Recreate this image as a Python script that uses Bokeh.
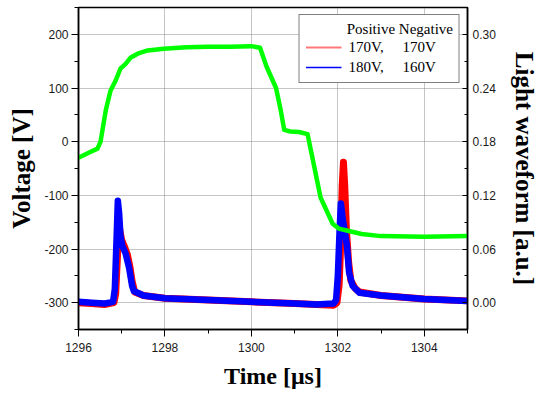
from bokeh.plotting import figure
from bokeh.models import (Range1d, LinearAxis, FixedTicker, PrintfTickFormatter,
                          Legend, LegendItem)
from bokeh.embed import file_html
from bokeh.resources import INLINE

# ---- Voltage waveform (left axis, V) ----
volt_t = [1296.0, 1296.2, 1296.44, 1296.51, 1296.63, 1296.74, 1296.86, 1296.97,
          1297.09, 1297.21, 1297.37, 1297.6, 1297.97, 1298.5, 1299.0, 1299.5,
          1300.0, 1300.2, 1300.35, 1300.57, 1300.68, 1300.76, 1300.9, 1301.1,
          1301.3, 1301.45, 1301.6, 1301.75, 1301.88, 1302.02, 1302.23, 1302.55,
          1303.0, 1304.0, 1305.0]
volt_v = [-30, -22, -13, 0, 58, 95, 114, 136,
          145, 157, 164, 170, 173, 176, 177, 177,
          178, 175, 140, 100, 58, 22, 19, 18,
          14, -45, -104, -130, -153, -162, -166, -172,
          -176, -177, -176]

# ---- Light waveform, Positive 170V / Negative 170V (right axis, a.u.) ----
light1_t = [1296.0, 1296.3, 1296.6, 1296.82, 1296.86, 1296.9, 1296.93, 1296.96,
            1297.0, 1297.06, 1297.13, 1297.19, 1297.24, 1297.3, 1297.5, 1298.0,
            1299.0, 1300.0, 1301.0, 1301.5, 1301.9, 1301.98, 1302.03, 1302.07,
            1302.1, 1302.13, 1302.16, 1302.2, 1302.25, 1302.3, 1302.4, 1302.5,
            1303.0, 1304.0, 1305.0]
light1_v = [0.000, -0.001, -0.002, 0.000, 0.010, 0.050, 0.089, 0.080,
            0.070, 0.063, 0.054, 0.040, 0.024, 0.012, 0.008, 0.005,
            0.003, 0.001, -0.001, -0.002, -0.003, 0.000, 0.020, 0.070,
            0.130, 0.157, 0.130, 0.080, 0.045, 0.025, 0.016, 0.012,
            0.008, 0.004, 0.002]

# ---- Light waveform, Positive 180V / Negative 160V ----
light2_t = [1296.0, 1296.3, 1296.6, 1296.8, 1296.84, 1296.88, 1296.91, 1296.94,
            1296.97, 1297.01, 1297.09, 1297.17, 1297.24, 1297.28, 1297.5, 1298.0,
            1299.0, 1300.0, 1301.0, 1301.5, 1301.9, 1301.96, 1302.0, 1302.04,
            1302.07, 1302.11, 1302.15, 1302.21, 1302.26, 1302.34, 1302.5, 1303.0,
            1304.0, 1305.0]
light2_v = [0.001, 0.000, -0.001, 0.001, 0.015, 0.070, 0.114, 0.100,
            0.075, 0.064, 0.055, 0.039, 0.019, 0.013, 0.008, 0.005,
            0.003, 0.001, -0.001, -0.002, -0.001, 0.003, 0.030, 0.080,
            0.111, 0.095, 0.083, 0.064, 0.034, 0.019, 0.011, 0.008,
            0.004, 0.002]

NB = "\u00a0"
legend_header = NB * 11 + "Positive" + NB + "Negative"
label1 = "170V," + NB * 5 + "170V"
label2 = "180V," + NB * 5 + "160V"

x_ticks = [1296, 1298, 1300, 1302, 1304]
x_minor = [1297, 1299, 1301, 1303, 1305]
v_ticks = [-300, -200, -100, 0, 100, 200]
v_minor = [-350, -250, -150, -50, 50, 150, 250]
l_ticks = [0.00, 0.06, 0.12, 0.18, 0.24, 0.30]
l_minor = [-0.03, 0.03, 0.09, 0.15, 0.21, 0.27, 0.33]

p = figure(width=543, height=395, output_backend="svg", toolbar_location=None,
           x_range=Range1d(1296, 1305), y_range=Range1d(-350, 250),
           min_border_left=78, min_border_right=76, min_border_top=7,
           min_border_bottom=66)
p.extra_y_ranges = {"light": Range1d(-0.03, 0.33)}
p.background_fill_color = "white"
p.border_fill_color = "white"
p.outline_line_color = "black"
p.outline_line_width = 1.5

# legend-sample renderers (thin), hidden below thick traces
leg1 = p.line(light1_t, light1_v, y_range_name="light", line_color="#ff4040",
              line_width=2, line_alpha=0.7)
r1 = p.line(light1_t, light1_v, y_range_name="light", line_color="#ff0000",
            line_width=7, line_join="round")
leg2 = p.line(light2_t, light2_v, y_range_name="light", line_color="#0000ff",
              line_width=1.5)
r2 = p.line(light2_t, light2_v, y_range_name="light", line_color="#0000ff",
            line_width=6.5, line_join="round")
g = p.line(volt_t, volt_v, line_color="#00ff00", line_width=4.5, line_join="round")

# axes
tick_font = "Liberation Sans"
lab_font = "Liberation Serif"

xa = p.xaxis[0]
xa.ticker = FixedTicker(ticks=x_ticks, minor_ticks=x_minor)
xa.axis_label = "Time [\u03bcs]"
ya = p.yaxis[0]
ya.ticker = FixedTicker(ticks=v_ticks, minor_ticks=v_minor)
ya.formatter = PrintfTickFormatter(format="%d")
ya.axis_label = "Voltage [V]"

ra = LinearAxis(y_range_name="light", axis_label="Light waveform [a.u.]",
                ticker=FixedTicker(ticks=l_ticks, minor_ticks=l_minor),
                formatter=PrintfTickFormatter(format="%.2f"))
p.add_layout(ra, "right")

for ax in (xa, ya, ra):
    ax.axis_line_color = "black"
    ax.axis_line_width = 1.5
    ax.major_tick_line_color = "black"
    ax.minor_tick_line_color = "black"
    ax.major_tick_line_width = 1
    ax.minor_tick_line_width = 1
    ax.major_label_text_font = tick_font
    ax.major_label_text_font_size = "12px"
    ax.major_label_text_color = "#1a1a1a"
    ax.axis_label_text_font = lab_font
    ax.axis_label_text_font_style = "bold"
    ax.axis_label_text_color = "black"

for ax in (xa, ya):
    ax.major_tick_out = 7
    ax.major_tick_in = 0
    ax.minor_tick_out = 4
    ax.minor_tick_in = 0
ra.major_tick_in = 5
ra.major_tick_out = 0
ra.minor_tick_in = 3
ra.minor_tick_out = 0

xa.major_label_standoff = 6
xa.axis_label_standoff = 8
xa.axis_label_text_font_size = "24px"
ya.major_label_standoff = 3
ya.axis_label_standoff = 6
ya.axis_label_text_font_size = "25px"
ra.major_label_standoff = 5
ra.axis_label_standoff = 12
ra.axis_label_text_font_size = "25px"

# grid
for gr in (p.xgrid[0], p.ygrid[0]):
    gr.grid_line_color = "#8a8a8a"
    gr.grid_line_dash = "1 1"
    gr.grid_line_width = 1
p.xgrid[0].ticker = FixedTicker(ticks=x_ticks)
p.ygrid[0].ticker = FixedTicker(ticks=v_ticks)

legend = Legend(items=[LegendItem(label=label1, renderers=[leg1]),
                       LegendItem(label=label2, renderers=[leg2])],
                location="top_right", title=legend_header)
legend.title_text_font = lab_font
legend.title_text_font_size = "15px"
legend.title_text_font_style = "normal"
legend.title_text_color = "black"
legend.title_standoff = 0
legend.label_text_font = lab_font
legend.label_text_font_size = "15px"
legend.label_text_color = "black"
legend.label_standoff = 7
legend.glyph_width = 36
legend.glyph_height = 18
legend.label_height = 18
legend.spacing = 2
legend.padding = 6
legend.margin = 7
legend.border_line_color = "black"
legend.border_line_width = 1.5
legend.background_fill_color = "white"
legend.background_fill_alpha = 1.0
p.add_layout(legend, "center")

open("out.html", "w").write(file_html(p, INLINE))
